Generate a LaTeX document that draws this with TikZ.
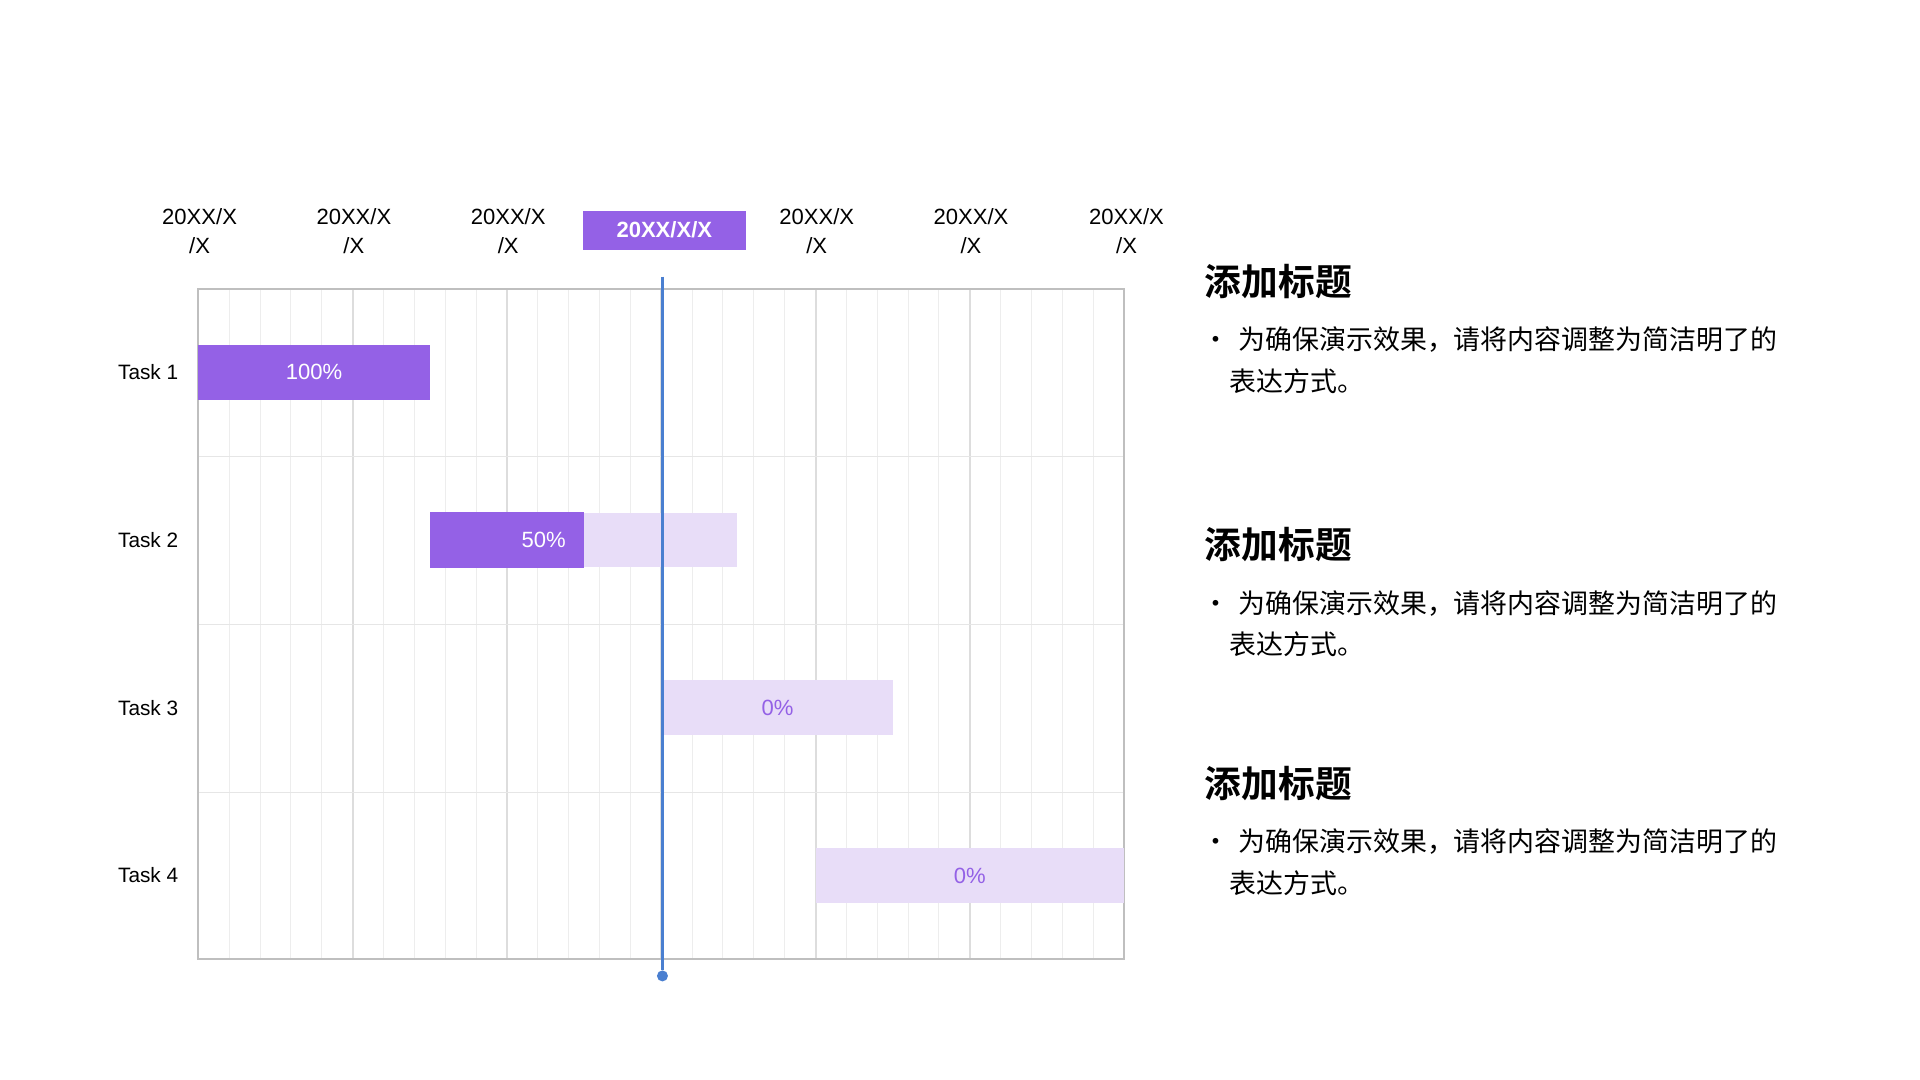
\documentclass[tikz,border=0pt]{standalone}
\usepackage{fontspec}
\setmainfont{Liberation Sans}
\newfontfamily\cjk{Noto Sans CJK SC}
\newfontfamily\cjkb{Noto Sans CJK SC Bold}
\definecolor{dk}{HTML}{9461E6}
\definecolor{lt}{HTML}{E8DDF8}
\definecolor{bl}{HTML}{4A7FD0}
\definecolor{gr}{HTML}{E6E6E6}
\begin{document}
\begin{tikzpicture}[x=0.5pt,y=-0.5pt,
 lbl/.style={font=\fontsize{8.5}{9}\selectfont,text=black},
 dt/.style={font=\fontsize{9}{12}\selectfont,align=center,text=black},
 ttl/.style={font=\cjkb\fontsize{15}{18}\selectfont,anchor=west},
 bod/.style={font=\cjk\fontsize{11}{17}\selectfont,anchor=north west,align=left,text width=240pt}]
\useasboundingbox (0,0) rectangle (1568,882);
% grid
\foreach \i in {0,...,30} \draw[gr!70,line width=0.4pt] ({162+25.2*\i},236) -- ({162+25.2*\i},783);
\foreach \i in {1,...,5} \draw[gr!80!black!20!gr,line width=0.8pt] ({162+126*\i},236) -- ({162+126*\i},783);
\foreach \y in {373,510,647} \draw[gr,line width=0.6pt] (162,\y) -- (918,\y);
\draw[black!25,line width=0.8pt] (162,236) rectangle (918,783);
% bars
\node[fill=dk,minimum width=94.5pt,minimum height=22.5pt,inner sep=0,text=white,font=\fontsize{9}{10}\selectfont] (b1) at (256.5,304) {100\%};
\fill[lt] (477,419) rectangle (602,463);
\node[fill=dk,minimum width=63pt,minimum height=22.5pt,inner sep=0,text=white,font=\fontsize{9}{10}\selectfont] (b2) at (414,441) {\hspace*{30pt}50\%};
\node[fill=lt,minimum width=94pt,minimum height=22.5pt,inner sep=0,text=dk,font=\fontsize{9}{10}\selectfont] (b3) at (635,578) {0\%};
\node[fill=lt,minimum width=126pt,minimum height=22.5pt,inner sep=0,text=dk,font=\fontsize{9}{10}\selectfont] (b4) at (792,715) {0\%};
% task labels
\node[lbl] (t1) at (121,304) {Task 1};
\node[lbl] (t2) at (121,441) {Task 2};
\node[lbl] (t3) at (121,578) {Task 3};
\node[lbl] (t4) at (121,715) {Task 4};
% dates
\foreach \x/\n in {163/d1,289/d2,415/d3,667/d5,793/d6,920/d7}
  \node[dt] (\n) at (\x,189) {20XX/X\\/X};
\node[fill=dk,minimum width=66.5pt,minimum height=16pt,inner sep=0,text=white,font=\bfseries\fontsize{9}{10}\selectfont] (d4) at (542.5,188) {20XX/X/X};
% today line
\coordinate (top) at (541,226);
\node[circle,fill=bl,inner sep=0,minimum size=4.5pt] (dot) at (541,797) {};
\draw[bl,line width=1.5pt] (top) -- (dot);
% right text
\foreach \y/\k in {230/a,445/b,640/c}{
 \node[ttl] (h\k) at (977,\y) {添加标题};
 \node[bod] (p\k) at (975,\y+30) {•\ 为确保演示效果，请将内容调整为简洁明了的\\\hspace*{11pt}表达方式。};
}
\end{tikzpicture}
\end{document}
